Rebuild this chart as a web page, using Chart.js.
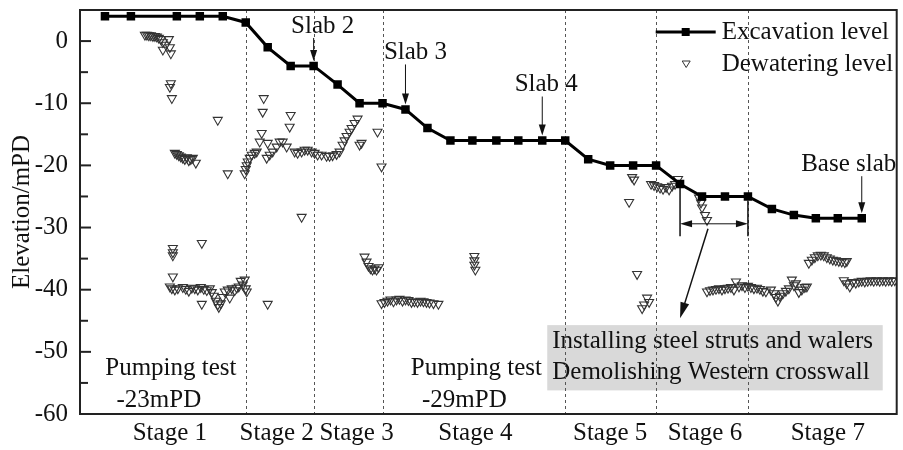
<!DOCTYPE html>
<html>
<head>
<meta charset="utf-8">
<script src="https://cdn.jsdelivr.net/npm/chart.js@4/dist/chart.umd.min.js"></script>
<style>
  html, body { margin: 0; background: #fff; }
</style>
</head>
<body>
<canvas id="c" width="903" height="450"></canvas>
<script>
// construction day (0 = start of record) and level in mPD
var excavDay = [25, 51, 97, 120, 143, 166, 188, 211, 234, 258, 280, 303, 326, 348, 371, 393, 417,
  439, 463, 486, 509, 531, 554, 577, 601, 623, 646, 669, 693, 715, 737, 759, 783];
var excavLevel = [4, 4, 4, 4, 4, 3, -1, -4, -4, -7, -10, -10, -11, -14, -16, -16, -16,
  -16, -16, -16, -19, -20, -20, -20, -23, -25, -25, -25, -27, -28, -28.5, -28.5, -28.5];

var dewaterDay = [
  // stage 1, shallow wells
  65, 67, 69, 71, 73, 75, 77, 79, 81, 83, 86, 89, 90, 83, 91, 91, 90, 92,
  95, 97, 99, 101, 103, 105, 107, 109, 111, 113, 116, 138, 148,
  // stage 1, pumping test
  90, 92, 95, 98, 103, 106, 109, 112, 115, 118, 121, 124, 127, 130, 132, 134, 136, 138, 139, 141,
  143, 145, 148, 150, 152, 155, 157, 159, 161, 163, 165, 166, 167, 122, 188, 93, 93, 93, 122, 93,
  // stage 2 / 3
  165, 166, 167, 168, 170, 172, 175, 177, 180, 182, 183, 184, 188, 187, 190, 193, 197, 200, 203, 207,
  210, 211, 215, 218, 222, 225, 228, 232, 235, 238, 242, 247, 250, 253, 257, 260, 263, 265, 267, 270,
  272, 275, 278, 282, 280, 298, 302, 222,
  285, 287, 289, 291, 293, 295, 297, 299,
  // stage 3 / 4, pumping test
  302, 305, 308, 311, 314, 317, 320, 323, 326, 329, 332, 335, 338, 341, 344, 347, 350, 354, 359,
  395, 395, 395, 396,
  // stage 5
  553, 555, 550, 572, 575, 578, 581, 584, 587, 590, 593, 596, 599, 620, 622, 623, 626, 628,
  558, 568, 565, 570, 563,
  // stage 6 / 7
  628, 631, 634, 637, 640, 643, 646, 649, 652, 655, 657, 660, 663, 666, 669, 672, 675, 678, 681, 684,
  687, 692, 695, 697, 699, 701, 704, 707, 710, 713, 715, 717, 720, 723, 726, 728,
  730, 733, 736, 739, 742, 745, 748, 751, 754, 757, 760, 763, 766, 768,
  765, 768, 771, 774, 777, 780, 783, 786, 789, 792, 795, 798, 801, 804, 807, 810, 813, 816
];
var dewaterLevel = [
  1.0, 1.0, 0.9, 0.9, 0.8, 0.8, 0.7, 0.5, 0.3, -0.2, -0.6, 0.3, -1.0, -1.4, -2.0, -6.8, -7.4, -9.2,
  -18.0, -18.2, -18.4, -18.6, -18.8, -19.0, -18.7, -19.2, -19.0, -18.8, -19.6, -12.7, -21.3,
  -39.5, -39.8, -40.0, -39.8, -39.6, -39.9, -40.2, -39.7, -39.8, -40.0, -39.6, -39.9, -40.1, -39.8, -40.4, -41.0, -41.8, -42.4, -42.8, -42.2,
  -41.2, -40.3, -40.0, -41.3, -39.8, -40.1, -39.7, -39.5, -38.6, -39.2, -38.4, -39.8, -40.3, -42.3, -42.3, -33.3, -34.0, -34.5, -32.5, -37.9,
  -21.3, -20.6, -20.0, -19.4, -18.8, -18.3, -18.0, -17.8, -16.2, -14.8, -11.4, -9.2, -16.4, -18.8, -18.3, -17.8, -17.0, -16.2, -16.2, -17.0,
  -13.8, -11.9, -17.8, -18.0, -17.8, -17.5, -17.5, -17.8, -18.0, -18.3, -18.3, -18.5, -18.5, -18.4, -18.2, -17.8, -16.7, -16.0, -15.3, -14.6,
  -14.0, -13.2, -12.5, -16.4, -16.7, -14.6, -20.2, -28.3,
  -34.7, -35.5, -36.2, -36.6, -36.8, -36.6, -36.8, -36.4,
  -42.2, -42.0, -41.8, -41.6, -41.9, -41.6, -41.5, -41.8, -41.6, -41.7, -42.0, -41.9, -42.0, -41.8, -41.9, -42.0, -42.1, -42.2, -42.3,
  -34.6, -35.3, -36.0, -36.8,
  -21.9, -22.3, -25.9, -23.0, -23.2, -23.4, -23.6, -23.8, -23.5, -23.9, -23.3, -23.0, -22.2, -25.2, -26.0, -26.8, -28.0, -28.8,
  -37.5, -41.3, -42.4, -42.0, -43.0,
  -40.3, -40.1, -40.0, -39.9, -39.8, -40.0, -39.8, -39.7, -39.6, -40.0, -38.7, -39.5, -39.3, -39.6, -39.4, -39.6, -39.8, -39.7, -39.9, -40.2,
  -40.3, -40.0, -40.6, -41.2, -41.8, -41.0, -40.6, -40.2, -39.8, -38.4, -39.3, -39.0, -40.4, -40.0, -39.6, -39.5,
  -35.7, -35.2, -34.8, -34.5, -34.4, -34.5, -34.8, -35.0, -35.2, -35.3, -35.4, -35.5, -35.6, -35.4,
  -38.5, -39.0, -39.5, -38.8, -38.9, -38.7, -38.6, -38.7, -38.6, -38.5, -38.6, -38.5, -38.6, -38.5, -38.6, -38.5, -38.6, -38.5
];

var stageNames = ["Stage 1", "Stage 2", "Stage 3", "Stage 4", "Stage 5", "Stage 6", "Stage 7"];
var stageLabelDay = [90, 197, 277, 396, 531, 626, 749];
var stageBoundDay = [166, 234, 303, 486, 577, 669];

var SERIF = "'Liberation Serif', 'Times New Roman', serif";
var FONT = { family: SERIF, size: 25 };
var CSSFONT = "25px " + SERIF;

function arrow(ctx, x1, y1, x2, y2, len, half) {
  var a = Math.atan2(y2 - y1, x2 - x1);
  ctx.beginPath(); ctx.moveTo(x1, y1); ctx.lineTo(x2 - Math.cos(a) * len * 0.6, y2 - Math.sin(a) * len * 0.6); ctx.stroke();
  ctx.beginPath();
  ctx.moveTo(x2, y2);
  ctx.lineTo(x2 - Math.cos(a) * len - Math.sin(a) * half, y2 - Math.sin(a) * len + Math.cos(a) * half);
  ctx.lineTo(x2 - Math.cos(a) * len + Math.sin(a) * half, y2 - Math.sin(a) * len - Math.cos(a) * half);
  ctx.closePath(); ctx.fill();
}

// grey note box and stage dividers go under the data
var underlay = {
  id: "underlay",
  beforeDatasetsDraw: function (chart) {
    var ctx = chart.ctx, x = chart.scales.x, y = chart.scales.y, ca = chart.chartArea;
    ctx.save();
    var bx0 = x.getPixelForValue(468), bx1 = x.getPixelForValue(804);
    var by0 = y.getPixelForValue(-45.7), by1 = y.getPixelForValue(-56.2);
    ctx.fillStyle = "#d9d9d9";
    ctx.fillRect(bx0, by0, bx1 - bx0, by1 - by0);
    ctx.fillStyle = "#111"; ctx.font = CSSFONT;
    ctx.textAlign = "left"; ctx.textBaseline = "middle";
    ctx.fillText("Installing steel struts and walers", x.getPixelForValue(473), y.getPixelForValue(-48.3));
    ctx.fillText("Demolishing Western crosswall", x.getPixelForValue(473), y.getPixelForValue(-53.3));

    ctx.strokeStyle = "#555"; ctx.lineWidth = 1; ctx.setLineDash([3, 3]);
    stageBoundDay.forEach(function (d) {
      var px = Math.round(x.getPixelForValue(d)) + 0.5;
      ctx.beginPath(); ctx.moveTo(px, ca.top); ctx.lineTo(px, ca.bottom); ctx.stroke();
    });
    ctx.restore();
  }
};

// labels, arrows, legend, frame and inward ticks on top
var overlay = {
  id: "overlay",
  afterDatasetsDraw: function (chart) {
    var ctx = chart.ctx, x = chart.scales.x, y = chart.scales.y, ca = chart.chartArea;
    ctx.save();
    ctx.fillStyle = "#111"; ctx.strokeStyle = "#111";
    ctx.font = CSSFONT; ctx.textAlign = "center"; ctx.textBaseline = "middle";

    // slab arrows point at the excavation square of that date
    [["Slab 2", 8, 9, 23], ["Slab 3", 12, 10, 40], ["Slab 4", 18, 4, 39], ["Base slab", 32, -13, 37]].forEach(function (s) {
      var ax = x.getPixelForValue(excavDay[s[1]]);
      var tip = y.getPixelForValue(excavLevel[s[1]]) - 5;
      ctx.lineWidth = 1;
      arrow(ctx, ax, tip - s[3], ax, tip, 11, 3.5);
      ctx.fillText(s[0], ax + s[2], tip - s[3] - 12);
    });

    ctx.fillText("Pumping test", x.getPixelForValue(91), y.getPixelForValue(-52.6));
    ctx.fillText("-23mPD", x.getPixelForValue(79), y.getPixelForValue(-57.75));
    ctx.fillText("Pumping test", x.getPixelForValue(397), y.getPixelForValue(-52.6));
    ctx.fillText("-29mPD", x.getPixelForValue(385), y.getPixelForValue(-57.75));

    // stage 6 bracket and pointer to the note
    var l = x.getPixelForValue(excavDay[24]), r = x.getPixelForValue(excavDay[27]);
    var yb = y.getPixelForValue(-31.4), ym = y.getPixelForValue(-29.4);
    ctx.lineWidth = 1.5;
    ctx.beginPath();
    ctx.moveTo(l, y.getPixelForValue(excavLevel[24]) + 4); ctx.lineTo(l, yb);
    ctx.moveTo(r, y.getPixelForValue(excavLevel[27]) + 4); ctx.lineTo(r, yb);
    ctx.stroke();
    ctx.lineWidth = 1;
    var mid = (l + r) / 2;
    arrow(ctx, mid, ym, l, ym, 12, 3.5);
    arrow(ctx, mid, ym, r, ym, 12, 3.5);
    ctx.lineWidth = 1.5;
    arrow(ctx, x.getPixelForValue(629), y.getPixelForValue(-30.2), x.getPixelForValue(601), y.getPixelForValue(-44.6), 16, 4.5);

    // legend
    var lx = ca.right - 241, ly1 = ca.top + 22, ly2 = ca.top + 54;
    ctx.lineWidth = 3; ctx.strokeStyle = "#000"; ctx.fillStyle = "#000";
    ctx.beginPath(); ctx.moveTo(lx, ly1); ctx.lineTo(lx + 60, ly1); ctx.stroke();
    ctx.fillRect(lx + 26, ly1 - 4, 8, 8);
    ctx.lineWidth = 1; ctx.strokeStyle = "#333";
    ctx.beginPath(); ctx.moveTo(lx + 26.5, ly2 - 3); ctx.lineTo(lx + 34.5, ly2 - 3); ctx.lineTo(lx + 30.5, ly2 + 3.5); ctx.closePath(); ctx.stroke();
    ctx.fillStyle = "#111"; ctx.textAlign = "left";
    ctx.fillText("Excavation level", lx + 66, ly1);
    ctx.fillText("Dewatering level", lx + 66, ly2);

    // frame and inward ticks
    ctx.strokeStyle = "#222"; ctx.lineWidth = 2;
    ctx.strokeRect(ca.left, ca.top, ca.right - ca.left, ca.bottom - ca.top);
    for (var v = -60; v <= 5; v += 5) {
      var py = y.getPixelForValue(v);
      ctx.beginPath(); ctx.moveTo(ca.left, py); ctx.lineTo(ca.left + (v % 10 === 0 ? 11 : 8), py); ctx.stroke();
    }
    ctx.restore();
  }
};

new Chart(document.getElementById("c"), {
  data: {
    datasets: [
      {
        type: "line", label: "Excavation level",
        data: excavDay.map(function (d, i) { return { x: d, y: excavLevel[i] }; }),
        borderColor: "#000", backgroundColor: "#000", borderWidth: 3,
        pointStyle: "rect", pointRadius: 6, pointBorderWidth: 0, tension: 0
      },
      {
        type: "scatter", label: "Dewatering level",
        data: dewaterDay.map(function (d, i) { return { x: d, y: dewaterLevel[i] }; }),
        pointStyle: "triangle", rotation: 180, pointRadius: 5.2,
        borderColor: "#333", borderWidth: 1.1, backgroundColor: "rgba(0,0,0,0)"
      }
    ]
  },
  options: {
    responsive: false, animation: false,
    layout: { padding: { top: 10, right: 5, left: 0, bottom: 0 } },
    plugins: { legend: { display: false }, tooltip: { enabled: false } },
    scales: {
      x: {
        type: "linear", min: 0, max: 818,
        grid: { display: false, drawTicks: false }, border: { display: false },
        afterBuildTicks: function (s) { s.ticks = stageLabelDay.map(function (d) { return { value: d }; }); },
        afterFit: function (s) { s.height = 36; s.paddingLeft = 0; s.paddingRight = 0; },
        ticks: {
          autoSkip: false, maxRotation: 0, padding: 4, color: "#111", font: FONT,
          callback: function (v, i) { return stageNames[i]; }
        }
      },
      y: {
        min: -60, max: 5,
        grid: { display: false, drawTicks: false }, border: { display: false },
        afterFit: function (s) { s.width = 80; s.paddingTop = 0; s.paddingBottom = 0; },
        ticks: { stepSize: 10, includeBounds: false, padding: 12, color: "#111", font: FONT },
        title: { display: true, text: "Elevation/mPD", color: "#111", font: FONT, padding: { top: 7, bottom: 0 } }
      }
    }
  },
  plugins: [underlay, overlay]
});
</script>
</body>
</html>
